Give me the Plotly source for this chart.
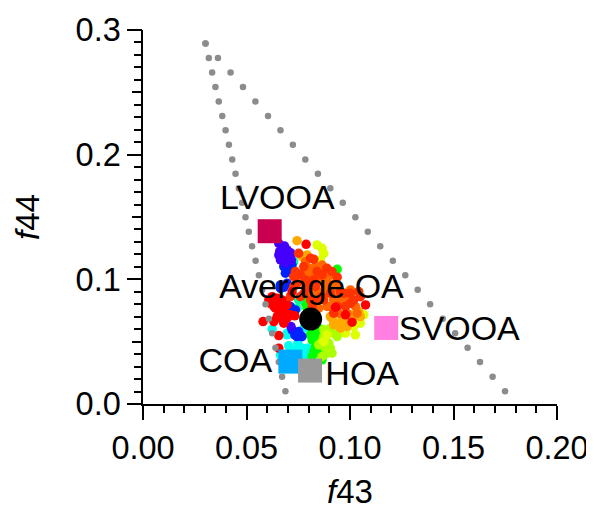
import plotly.graph_objects as go

FONT = "Liberation Sans"

# Dotted triangle guide lines
guide_y = [.2892,.2776,.2660,.2543,.2427,.2311,.2195,.2079,.1962,.1846,.1730,.1614,.1498,.1381,.1265,.1149,.1033,.0917,.0800,.0684,.0568,.0452,.0336,.0219,.0103]
guide_left_x = [.0302,.0318,.0334,.0350,.0366,.0383,.0399,.0415,.0431,.0447,.0463,.0479,.0495,.0511,.0527,.0544,.0560,.0576,.0592,.0608,.0624,.0640,.0656,.0672,.0688]
guide_right_x = [.0302,.0362,.0423,.0483,.0543,.0604,.0664,.0724,.0784,.0845,.0905,.0965,.1026,.1086,.1146,.1207,.1267,.1327,.1387,.1448,.1508,.1568,.1628,.1689,.1749]

# Scatter cluster, one pair of lists per colour
yellow_x = [.0841,.0865,.0873,.0857,.0873,.1018,.1050,.0978,.1026,.0938,.1067,.0889]
yellow_y = [.1276,.1249,.1209,.1155,.0501,.0621,.0648,.0568,.0555,.0635,.0715,.0555]
orange_x = [.0744,.0793,.0769,.0954,.0913,.1002,.1042,.0954,.0986,.0921,.1050,.0986,.1018,.0962,.0905,.0921]
orange_y = [.1310,.1195,.1182,.0648,.0688,.0715,.0742,.0608,.0661,.0635,.0701,.0621,.0701,.0701,.0701,.0661]
green_x = [.0785,.0793,.0817,.0809,.0817,.0833,.0849,.0817,.0865,.0938,.0841,.0785,.0825,.0833,.0849]
green_y = [.0808,.0768,.0608,.0555,.0515,.0461,.0408,.0381,.0354,.1081,.0568,.0848,.0421,.0528,.0608]
lime_x = [.0873,.0865,.0897,.0913,.0881,.0849,.0865,.0921,.0938,.0905,.0873,.0889,.0905,.0938,.0962]
lime_y = [.0541,.0501,.0488,.0408,.0448,.0475,.0381,.0568,.0595,.0608,.0595,.0408,.0448,.0541,.0581]
cyan_x = [.0624,.0696,.0704,.0748,.0768,.0664,.0793,.0777,.0728,.0777,.0728,.0752,.0704,.0793,.0760,.0680,.0696]
cyan_y = [.0600,.0555,.0467,.0488,.0448,.0394,.0408,.0608,.0381,.0381,.0434,.0421,.0381,.0448,.0394,.0381,.0568]
spring_x = [.0728,.0744,.0752]
spring_y = [.1142,.0768,.0835]
blue_x = [.0691,.0688,.0712,.0680,.0664,.0696,.0712,.0736,.0733,.0752,.0768,.0680,.0696,.0720,.0664,.0720,.0744]
blue_y = [.1089,.1049,.1089,.0936,.0928,.0968,.0782,.0755,.0555,.0581,.0541,.1102,.1062,.1115,.0955,.0595,.0541]
purple_x = [.0656,.0683,.0660,.0712,.0688,.0664,.0704,.0717,.0688,.0715,.0672,.0696,.0656,.0672,.0712]
purple_y = [.1289,.1268,.1222,.1214,.1195,.1155,.1169,.1155,.1129,.0621,.1236,.1236,.1195,.1182,.1182]
darkorange_x = [.0785,.0833,.0873,.0905,.0841,.0809,.0777,.0889,.0921,.0946,.0970,.1026,.1002,.0905,.0986,.0865,.0825,.0938,.0849,.0889,.0801,.0865,.0793,.0897,.0930,.0817,.0873,.0954,.0994,.0889,.0849,.1034,.0946]
darkorange_y = [.1142,.1102,.1062,.1035,.0995,.1049,.1062,.0915,.0835,.0861,.0835,.0782,.0915,.0782,.0728,.0982,.0928,.0928,.0901,.0995,.1089,.1115,.1009,.0955,.0968,.0875,.0888,.0808,.0835,.0782,.0768,.0728,.0728]
redorange_x = [.0752,.0825,.0777,.0728,.0760,.0801,.0841,.0889,.0913,.0938,.0849,.0809,.0777,.0712,.1002,.1050,.1018,.0954,.0744,.0785,.0825,.0873,.0978,.0938,.0760,.0736,.0865,.0809,.0785,.0833,.0905,.0970,.1042,.1002,.0921,.0728,.0817,.0865]
redorange_y = [.1209,.1161,.1102,.1022,.1035,.0968,.1062,.1089,.1062,.1017,.0835,.0835,.0888,.0861,.0888,.0861,.0835,.0901,.0968,.0995,.0995,.0835,.0782,.0782,.0861,.1062,.1035,.1169,.0928,.0942,.0888,.0888,.0902,.0808,.0728,.0942,.0782,.0861]
red_x = [.0788,.1075,.0580,.0656,.0656,.0632,.0680,.0624,.0615,.0656,.0688,.0648,.0733,.0696,.0720,.1010,.0978,.0930,.0672,.0640,.0664,.0696,.0608,.0632,.0664,.0696,.0648,.0680,.0712]
red_y = [.1281,.0795,.0661,.0549,.0448,.0661,.0648,.0861,.0808,.0782,.0715,.0701,.0707,.0795,.0901,.0656,.0715,.0776,.0835,.0768,.0688,.0715,.0835,.0782,.0742,.0688,.0848,.0768,.0715]

groups = [
    (cyan_x, cyan_y, "#00ffee"),
    (green_x, green_y, "#00ff00"),
    (lime_x, lime_y, "#aaff00"),
    (yellow_x, yellow_y, "#ddff00"),
    (spring_x, spring_y, "#00ff99"),
    (blue_x, blue_y, "#0022ff"),
    (purple_x, purple_y, "#4400ff"),
    (orange_x, orange_y, "#ffaa00"),
    (darkorange_x, darkorange_y, "#ff6600"),
    (redorange_x, redorange_y, "#ff3300"),
    (red_x, red_y, "#ff0000"),
]

# Factor profiles
factor_names = ["LVOOA", "SVOOA", "COA", "HOA"]
factor_x = [.0612, .1175, .0712, .0807]
factor_y = [.1386, .0610, .0340, .0268]
factor_colors = ["#c8004f", "#ff80e0", "#00aaff", "#999999"]

avg_x = [.0810]
avg_y = [.0681]

label_text = ["LVOOA", "Average OA", "SVOOA", "COA", "HOA"]
label_x = [.0649, .0814, .1528, .0446, .1059]
label_y = [.1636, .0916, .0580, .0324, .0220]

fig = go.Figure()
for gx, gy, c in groups:
    fig.add_trace(go.Scatter(x=gx, y=gy, mode="markers",
                             marker=dict(size=9.5, color=c, line=dict(width=0))))
for gx in (guide_left_x, guide_right_x):
    fig.add_trace(go.Scatter(x=gx, y=guide_y, mode="markers", yaxis="y2",
                             marker=dict(size=6.5, color="#8c8c8c", line=dict(width=0))))
fig.add_trace(go.Scatter(x=factor_x, y=factor_y, mode="markers", yaxis="y2",
                         marker=dict(size=24, symbol="square", color=factor_colors, line=dict(width=0))))
fig.add_trace(go.Scatter(x=avg_x, y=avg_y, mode="markers", yaxis="y2",
                         marker=dict(size=23, color="black", line=dict(width=0))))
fig.add_trace(go.Scatter(x=label_x, y=label_y, text=label_text, mode="text", yaxis="y2",
                         textposition="middle center",
                         textfont=dict(family=FONT, size=34, color="black"), cliponaxis=False))

tick_font = dict(family=FONT, size=32.5, color="black")
fig.update_layout(
    width=586, height=502, showlegend=False,
    margin=dict(l=134.5, r=37, t=21.5, b=105.5, autoexpand=False),
    paper_bgcolor="white", plot_bgcolor="white",
    font=dict(family=FONT, color="black"),
    xaxis=dict(range=[0, 0.2], tick0=0, dtick=0.05, tickformat=".2f", ticks="outside", ticklen=14,
               tickwidth=1.5, tickcolor="black", showgrid=False, zeroline=False,
               showline=True, linecolor="black", linewidth=1.5, tickfont=tick_font,
               minor=dict(dtick=0.01, tick0=0, ticks="outside", ticklen=7, tickwidth=1.5, tickcolor="black", showgrid=False),
               title=dict(text="<i>f</i>43", font=dict(family=FONT, size=33), standoff=23)),
    yaxis=dict(range=[0, 0.3], tick0=0, dtick=0.1, tickformat=".1f", ticks="outside", ticklen=14,
               tickwidth=1.5, tickcolor="black", showgrid=False, zeroline=False,
               showline=True, linecolor="black", linewidth=1.5, tickfont=tick_font,
               minor=dict(dtick=0.01, tick0=0, ticks="outside", ticklen=7, tickwidth=1.5, tickcolor="black", showgrid=False),
               title=dict(text="<i>f</i>44", font=dict(family=FONT, size=33), standoff=26)),
    yaxis2=dict(range=[0, 0.3], overlaying="y", side="left", tick0=0, dtick=0.05, ticks="outside",
                ticklen=10, tickwidth=1.5, tickcolor="black", showticklabels=False,
                showgrid=False, zeroline=False, showline=False),
)
fig.write_html("out.html")
